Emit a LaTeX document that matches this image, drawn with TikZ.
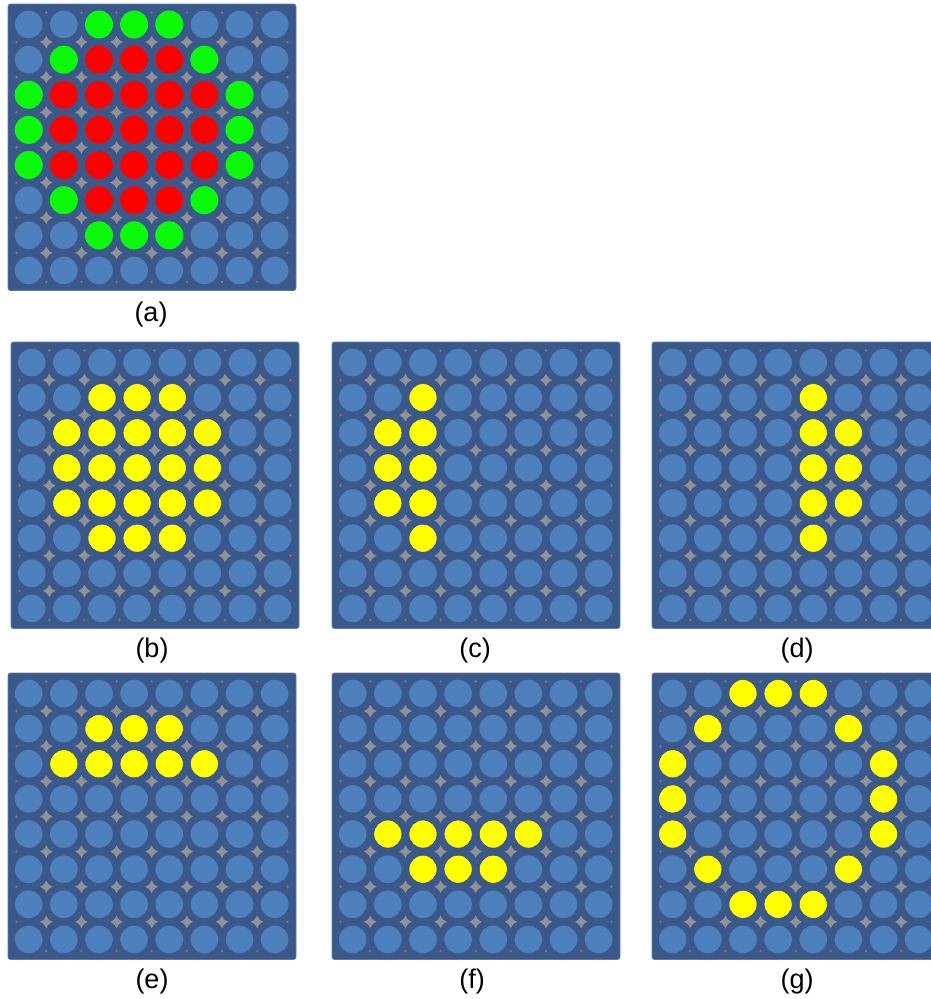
\documentclass[tikz,border=0pt]{standalone}
\usepackage{fontspec}
\setmainfont{Liberation Sans}
\definecolor{panelbg}{RGB}{58,88,138}
\definecolor{panelrim}{RGB}{92,122,172}
\definecolor{ledblue}{RGB}{78,128,190}
\definecolor{ledgrey}{RGB}{146,146,150}
\definecolor{leddot}{RGB}{118,126,146}
\definecolor{ledyellow}{RGB}{255,255,0}
\definecolor{yellowrim}{RGB}{40,62,150}
\definecolor{ledgreen}{RGB}{10,250,10}
\definecolor{ledredc}{RGB}{255,0,0}
\tikzset{
  panelbox/.style={fill=panelbg, draw=panelrim, line width=0.8pt, rounded corners=2.5pt},
  ledoff/.style={fill=ledblue},
  ledyel/.style={fill=ledyellow, draw=yellowrim, line width=0.5pt},
  ledgrn/.style={fill=ledgreen},
  ledred/.style={fill=ledredc},
  lbl/.style={font=\fontsize{27}{32}\selectfont, inner sep=0pt},
  diam/.pic={\fill[ledgrey] (0,-6.3) .. controls (2.2,-2.2) .. (6.3,0) .. controls (2.2,2.2) .. (0,6.3) .. controls (-2.2,2.2) .. (-6.3,0) .. controls (-2.2,-2.2) .. (0,-6.3) -- cycle;}
}
\newcommand{\ledgrid}{%
  \path[panelbox] (0,0) rectangle (288,286.5);
  \foreach \i in {0,...,6}{
    \foreach \j in {0,...,6}{\pic at ({20.7+35.14*(\i+0.5)},{20.5+35.14*(\j+0.5)}) {diam};}
    \fill[leddot] ({20.7+35.14*(\i+0.5)},8.5) circle[radius=1.3pt];
    \fill[leddot] ({20.7+35.14*(\i+0.5)},278) circle[radius=1.3pt];
    \fill[leddot] (8.5,{20.5+35.14*(\i+0.5)}) circle[radius=1.3pt];
    \fill[leddot] (279.5,{20.5+35.14*(\i+0.5)}) circle[radius=1.3pt];
  }
  \foreach \i in {0,...,7}{\foreach \j in {0,...,7}{
    \fill[ledoff] ({20.7+35.14*\i},{20.5+35.14*\j}) circle[radius=13.8pt];}}
}
\newcommand{\ledon}[2]{%
  \foreach \c/\r in {#2}{\path[#1] ({20.7+35.14*\c},{20.5+35.14*\r}) circle[radius=14pt];}
}
\begin{document}
\begin{tikzpicture}[x=1pt,y=-1pt]
\clip (0,0) rectangle (931,999);
\fill[white] (0,0) rectangle (931,999);
% (a)
\begin{scope}[shift={(8,4)}]
  \ledgrid
  \ledon{ledgrn}{2/0,3/0,4/0,1/1,5/1,0/2,6/2,0/3,6/3,0/4,6/4,1/5,5/5,2/6,3/6,4/6}
  \ledon{ledred}{2/1,3/1,4/1,1/2,2/2,3/2,4/2,5/2,1/3,2/3,3/3,4/3,5/3,1/4,2/4,3/4,4/4,5/4,2/5,3/5,4/5}
\end{scope}
% (b)
\begin{scope}[shift={(11,342)}]
  \ledgrid
  \ledon{ledyel}{2/1,3/1,4/1,1/2,2/2,3/2,4/2,5/2,1/3,2/3,3/3,4/3,5/3,1/4,2/4,3/4,4/4,5/4,2/5,3/5,4/5}
\end{scope}
% (c)
\begin{scope}[shift={(332,342)}]
  \ledgrid
  \ledon{ledyel}{2/1,1/2,2/2,1/3,2/3,1/4,2/4,2/5}
\end{scope}
% (d)
\begin{scope}[shift={(652,342)}]
  \ledgrid
  \ledon{ledyel}{4/1,4/2,5/2,4/3,5/3,4/4,5/4,4/5}
\end{scope}
% (e)
\begin{scope}[shift={(8,673)}]
  \ledgrid
  \ledon{ledyel}{2/1,3/1,4/1,1/2,2/2,3/2,4/2,5/2}
\end{scope}
% (f)
\begin{scope}[shift={(332,673)}]
  \ledgrid
  \ledon{ledyel}{1/4,2/4,3/4,4/4,5/4,2/5,3/5,4/5}
\end{scope}
% (g)
\begin{scope}[shift={(652,673)}]
  \ledgrid
  \ledon{ledyel}{2/0,3/0,4/0,1/1,5/1,0/2,6/2,0/3,6/3,0/4,6/4,1/5,5/5,2/6,3/6,4/6}
\end{scope}
\node[lbl] (la) at (151,315) {(a)};
\node[lbl] (lb) at (152,651) {(b)};
\node[lbl] (lc) at (475,651) {(c)};
\node[lbl] (ld) at (797,651) {(d)};
\node[lbl] (le) at (152,982) {(e)};
\node[lbl] (lf) at (472,982) {(f)};
\node[lbl] (lg) at (797,982) {(g)};
\end{tikzpicture}
\end{document}
